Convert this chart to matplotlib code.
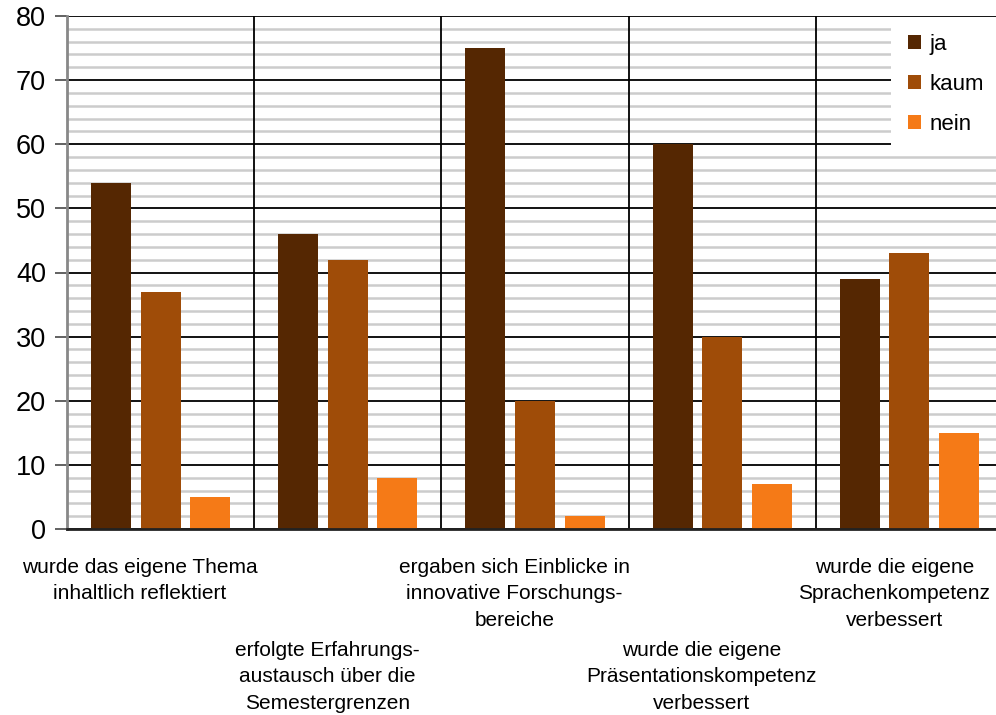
import matplotlib
matplotlib.use('Agg')
import matplotlib.pyplot as plt
from matplotlib.transforms import blended_transform_factory
import numpy as np

categories = [
    "wurde das eigene Thema\ninhaltlich reflektiert",
    "erfolgte Erfahrungs-\naustausch über die\nSemestergrenzen",
    "ergaben sich Einblicke in\ninnovative Forschungs-\nbereiche",
    "wurde die eigene\nPräsentationskompetenz\nverbessert",
    "wurde die eigene\nSprachenkompetenz\nverbessert",
]
series_names = ["ja", "kaum", "nein"]
ja = [54, 46, 75, 60, 39]
kaum = [37, 42, 20, 30, 43]
nein = [5, 8, 2, 7, 15]
colors = ["#552702", "#9f4c08", "#f57a17"]

plt.rcParams['font.family'] = ['Liberation Sans', 'DejaVu Sans']

fig = plt.figure(figsize=(9.96, 7.15), dpi=100)
ax = fig.add_axes([67 / 996, 186 / 715, 936 / 996, 513 / 715])

x = np.arange(len(categories))
width = 0.214
offset = 0.265
for i, (name, vals) in enumerate(zip(series_names, [ja, kaum, nein])):
    ax.bar(x + (i - 1) * offset, vals, width=width, color=colors[i],
           label=name, zorder=3)

ax.set_xlim(-0.5, len(categories) - 0.5)
ax.set_ylim(0, 80)

# major / minor horizontal grid
ax.set_yticks(np.arange(0, 81, 10))
ax.set_yticks(np.arange(0, 81, 2), minor=True)
ax.grid(axis='y', which='minor', color='#cccccc', linewidth=1.8)
ax.grid(axis='y', which='major', color='black', linewidth=1.3)

# category separators
bounds = np.arange(0.5, len(categories) - 0.5, 1)
for b in bounds:
    ax.axvline(b, color='black', linewidth=1.3, zorder=2)
ax.set_xticks([])

ax.tick_params(axis='y', which='major', length=9, width=1.3, color='#555555',
               labelsize=19.5, pad=6, labelcolor='black')
ax.tick_params(axis='y', which='minor', length=0)

for side in ['top', 'right']:
    ax.spines[side].set_visible(False)
ax.spines['left'].set_color('#888888')
ax.spines['left'].set_linewidth(2)
ax.spines['bottom'].set_color('#222222')
ax.spines['bottom'].set_linewidth(2)
ax.spines['bottom'].set_zorder(4)

# category labels, staggered on two rows
trans = blended_transform_factory(ax.transData, ax.transAxes)
label_dx = [-0.11, -0.11, -0.11, -0.11, -0.08]
for i, label in enumerate(categories):
    ypos = -0.056 if i % 2 == 0 else -0.218
    ax.text(i + label_dx[i], ypos, label, transform=trans, ha='center',
            va='top', fontsize=15, linespacing=1.5, multialignment='center')

leg = ax.legend(loc='upper left', bbox_to_anchor=(891 / 996, 1 - 17 / 715),
                bbox_transform=fig.transFigure, frameon=True, fontsize=16,
                handlelength=0.6, handleheight=0.6, handletextpad=0.4,
                labelspacing=0.86, borderpad=0.75, borderaxespad=0)
leg.get_frame().set_edgecolor('none')
leg.get_frame().set_facecolor('white')
leg.get_frame().set_alpha(1)
leg.get_frame().set_boxstyle('square', pad=0)

fig.savefig('out.png', dpi=100)
